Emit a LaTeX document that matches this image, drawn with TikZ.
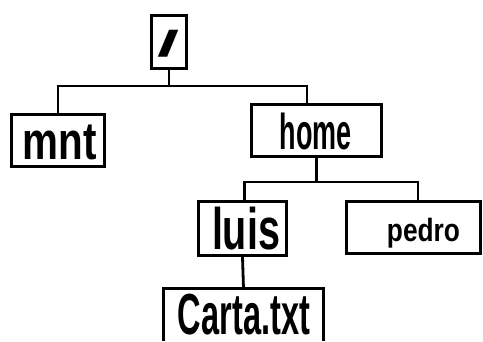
\documentclass[tikz,border=0pt]{standalone}
\usepackage{fontspec}
\setmainfont{Liberation Sans}
\usepackage{graphicx}
\begin{document}
\begin{tikzpicture}[x=1pt,y=-1pt,
  box/.style={draw,line width=2.8pt,inner sep=0pt},
  wire/.style={line width=2.8pt},
  lbl/.style={inner sep=0pt,font=\bfseries}]
\useasboundingbox (0,0) rectangle (483,341);
\node[box,minimum width=35pt,minimum height=53pt] (root) at (169,42) {};
\node[box,minimum width=93pt,minimum height=52pt] (mnt) at (58,140.5) {};
\node[box,minimum width=130pt,minimum height=52pt] (home) at (316.5,130.5) {};
\node[box,minimum width=88pt,minimum height=54pt] (luis) at (242.5,228.5) {};
\node[box,minimum width=134pt,minimum height=52pt] (pedro) at (413.5,227.5) {};
\node[inner sep=0pt,minimum width=160pt,minimum height=52pt] (carta) at (243.5,314.5) {};
\draw[wire] (carta.south west) |- (carta.north east) -- (carta.south east);
\node[lbl] (rootT) at (169,43.5) {\resizebox*{22pt}{27pt}{/}};
\node[lbl] (mntT) at (60,142.5) {\resizebox*{74pt}{35pt}{mnt}};
\node[lbl] (homeT) at (316,131.5) {\resizebox*{72pt}{37pt}{home}};
\node[lbl] (luisT) at (246,228.5) {\resizebox*{68pt}{43pt}{luis}};
\node[lbl] (pedroT) at (423.5,233) {\resizebox*{73pt}{30pt}{pedro}};
\node[lbl] (cartaT) at (244,315) {\resizebox*{132pt}{41pt}{Carta.txt}};
\coordinate (j1) at (169,86);
\coordinate (j2) at (316.5,182);
\draw[wire] (root.south) -- (j1);
\draw[wire] (mnt.north) |- (j1) -| ([xshift=-9.5pt]home.north);
\draw[wire] (home.south) -- (j2);
\draw[wire] ([xshift=2pt]luis.north) |- (j2) -| ([xshift=4.5pt]pedro.north);
\draw[wire] (luis.south) -- (carta.north);
\end{tikzpicture}
\end{document}
